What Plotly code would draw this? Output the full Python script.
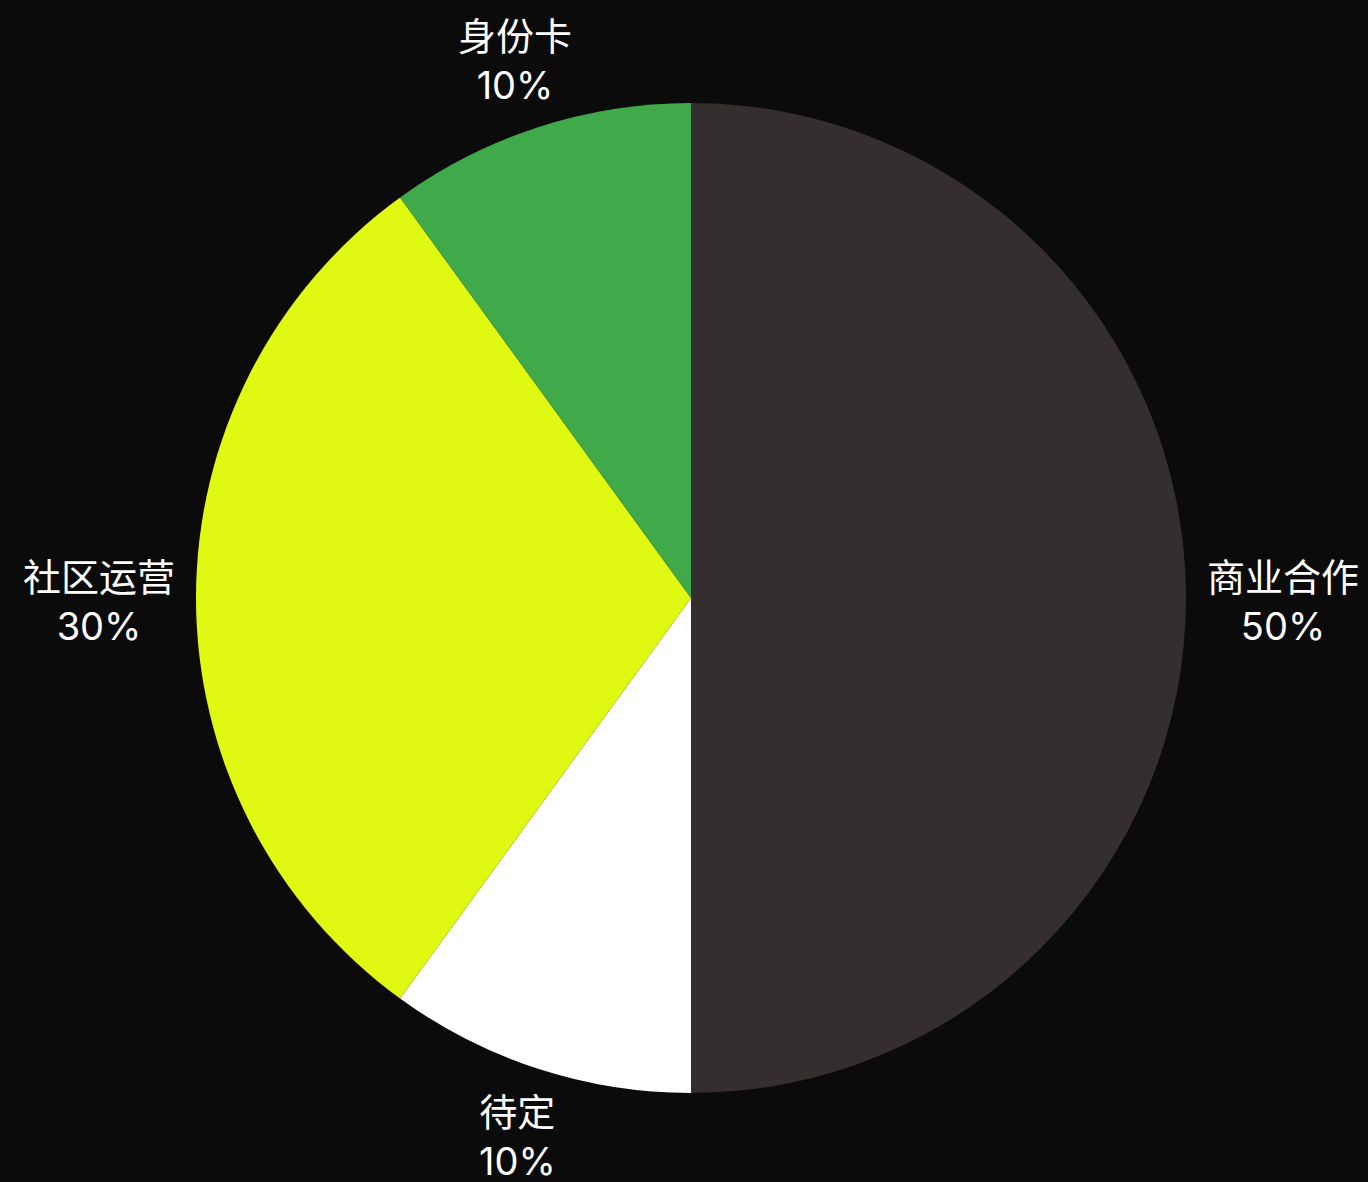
import math
import plotly.graph_objects as go

labels = ["商业合作", "待定", "社区运营", "身份卡"]
values = [50, 10, 30, 10]
colors = ["#342e2e", "#ffffff", "#e0f913", "#40a94a"]

W, H = 1368, 1182
ML, MR, MT, MB = 14, 0, 103, 89
FS = 38
GAP = 21
YSHIFT = -3  # pixels, small baseline correction for the label block

fig = go.Figure(go.Pie(
    labels=labels,
    values=values,
    sort=False,
    direction="clockwise",
    rotation=0,
    marker=dict(colors=colors, line=dict(width=0)),
    textposition="none",
    automargin=False,
    showlegend=False,
    hoverinfo="label+percent",
))

# outside labels placed along each slice's mid-angle
pw, ph = W - ML - MR, H - MT - MB
R = min(pw, ph) / 2
total = sum(values)
cum = 0
annotations = []
for lab, v in zip(labels, values):
    mid = (cum + v / 2) / total
    cum += v
    ang = math.radians(90 - 360 * mid)
    c, s = math.cos(ang), math.sin(ang)
    pct = f"{round(v / total * 100)}%"
    hw = max(len(lab) * FS, len(pct) * 0.55 * FS) / 2
    hh = FS * 0.97
    r = R + GAP + abs(c) * hw + abs(s) * hh
    annotations.append(dict(
        x=0.5 + r * c / pw, y=0.5 + r * s / ph,
        xref="paper", yref="paper", yshift=YSHIFT,
        text=f"{lab}<br>{pct}", showarrow=False,
        xanchor="center", yanchor="middle", align="center",
        font=dict(color="#ffffff", size=FS, family="Inter, Noto Sans CJK SC"),
    ))

fig.update_layout(
    width=W, height=H,
    paper_bgcolor="#0b0b0b",
    plot_bgcolor="#0b0b0b",
    margin=dict(l=ML, r=MR, t=MT, b=MB),
    annotations=annotations,
)

fig.write_html("out.html")
